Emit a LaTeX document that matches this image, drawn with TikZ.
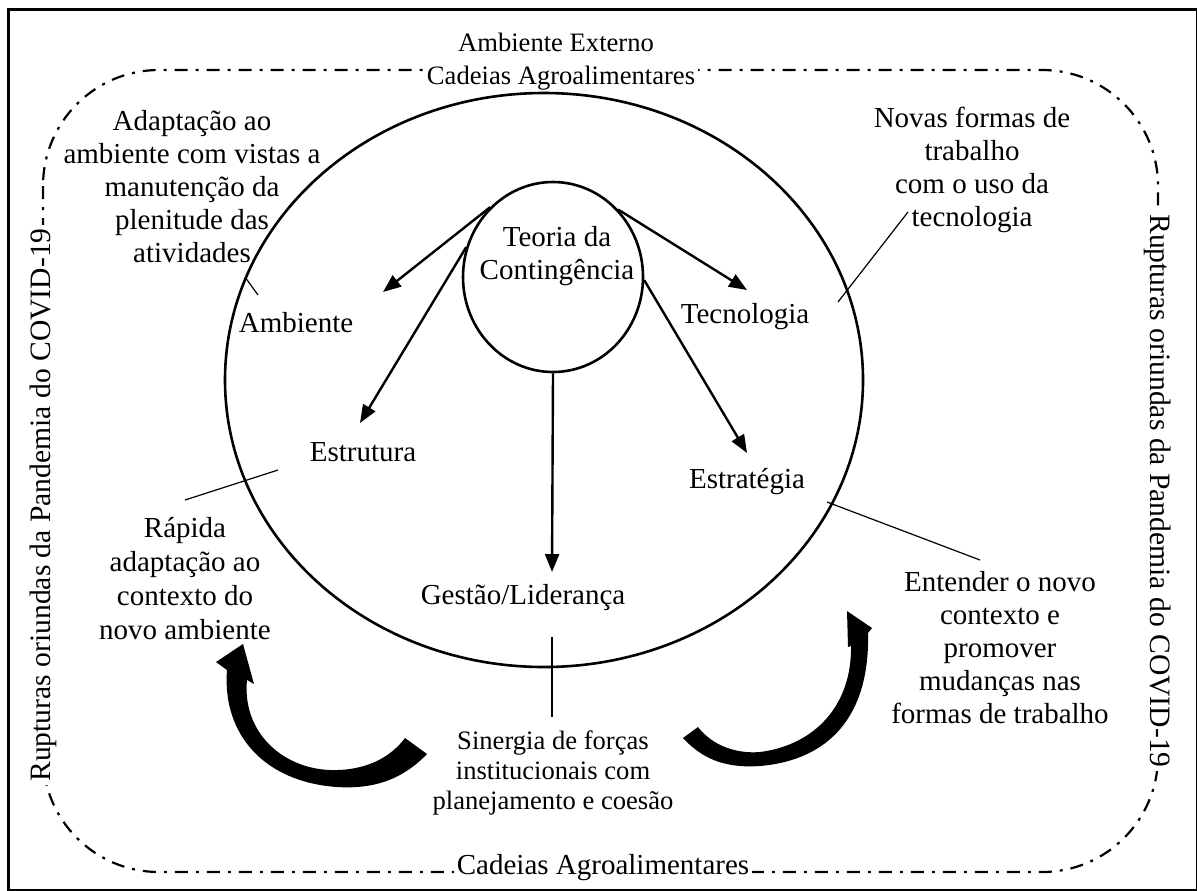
\documentclass[tikz,border=0pt]{standalone}
\usepackage{fontspec}
\setmainfont{Liberation Serif}
\usetikzlibrary{shapes.geometric,arrows.meta}
\begin{document}
\begin{tikzpicture}[x=0.5pt,y=-0.5pt,
  txt/.style={font=\fontsize{14.5}{16.5}\selectfont, align=center, inner sep=0pt},
  small/.style={font=\fontsize{13.3}{15}\selectfont, align=center, inner sep=0pt},
  conn/.style={line width=1.2pt, -{Triangle[length=9pt,width=7pt]}},
  leader/.style={line width=0.6pt},
  ddash/.style={line width=1.1pt, dash pattern=on 6.5pt off 4pt on 1.5pt off 4pt},
  onwhite/.style={fill=white, inner sep=1.5pt}]
\useasboundingbox (0,0) rectangle (1197,890);
% outer frame (right and bottom edges at the very border)
\draw[line width=1.5pt] (8,9) rectangle (1197.5,890.5);
\node[small] (ext) at (556,42) {Ambiente Externo};
% dash-dot rounded boundary
\draw[ddash, rounded corners=58pt] (43,70) rectangle (1158,872);
\node[small, onwhite] (cadtop) at (561,78) {Cadeias Agroalimentares};
\node[txt, onwhite] (cadbot) at (603,868) {Cadeias Agroalimentares};
\node[txt, onwhite, rotate=90, font=\fontsize{14.8}{16}\selectfont] (rupl) at (43,505) {Rupturas oriundas da Pandemia do COVID-19};
\node[txt, onwhite, rotate=-90, font=\fontsize{14.8}{16}\selectfont] (rupr) at (1158,491) {Rupturas oriundas da Pandemia do COVID-19};
% big ellipse
\node[draw, ellipse, line width=1.3pt, minimum width=319pt, minimum height=287pt, inner sep=0pt] (org) at (544,380) {};
% small circle
\node[draw, ellipse, line width=1.3pt, minimum width=90pt, minimum height=95pt, inner sep=0pt] (tc) at (553,277) {};
\node[txt] (tctext) at (557,256) {Teoria da\\Contingência};
% labels
\node[txt] (amb) at (296,323) {Ambiente};
\node[txt] (estr) at (363,452) {Estrutura};
\node[txt] (tec) at (745,317) {Tecnologia};
\node[txt] (estg) at (747,482) {Estratégia};
\node[txt] (gest) at (523,598) {Gestão/Liderança};
% arrow tips
\coordinate (tamb) at (383,292);
\coordinate (testr) at (360,423);
\coordinate (ttec) at (747,290);
\coordinate (testg) at (747,453);
\coordinate (tgest) at (552,572);
\draw[conn] (tc.132) -- (tamb);
\draw[conn] (tc.161) -- (testr);
\draw[conn] (tc.46) -- (ttec);
\draw[conn] (tc.-2) -- (testg);
\draw[conn] (tc.south) -- (tgest);
% explanatory texts
\node[txt] (adapt) at (192,187) {Adaptação ao\\ambiente com vistas a\\manutenção da\\plenitude das\\atividades};
\node[txt] (novas) at (972,170) {Novas formas de\\trabalho\\com o uso da\\tecnologia};
\node[txt, font=\fontsize{14.5}{17}\selectfont] (rapida) at (185,579) {Rápida\\adaptação ao\\contexto do\\novo ambiente};
\node[txt] (entender) at (1000,648) {Entender o novo\\contexto e\\promover\\mudanças nas\\formas de trabalho};
\node[small] (sinergia) at (553,773) {Sinergia de forças\\institucionais com\\planejamento e coesão};
% leader lines
\coordinate (a1) at (245,277); \coordinate (a2) at (258,295);
\coordinate (e1) at (278,470); \coordinate (e2) at (185,500);
\coordinate (t1) at (908,212); \coordinate (t2) at (838,302);
\coordinate (s1) at (827,502); \coordinate (s2) at (980,560);
\coordinate (g1) at (552,637); \coordinate (g2) at (552,717);
\draw[leader] (a1) -- (a2);
\draw[leader] (e1) -- (e2);
\draw[leader] (t1) -- (t2);
\draw[leader] (s1) -- (s2);
\draw[leader, line width=0.9pt] (g1) -- (g2);
% curved block arrows
\fill (405,738) -- (427,754)
  .. controls (400,782) and (370,789) .. (337,787)
  .. controls (265,782) and (222,735) .. (227,670)
  -- (216,662) -- (243,644) -- (254,684) -- (247,680)
  .. controls (242,730) and (280,768) .. (330,770)
  .. controls (365,771) and (390,758) .. (405,738) -- cycle;
\fill (683,738)
  .. controls (705,762) and (730,768) .. (760,766)
  .. controls (830,760) and (870,715) .. (868,633)
  -- (872,628) -- (847,611) -- (848,647) -- (851,646)
  .. controls (852,705) and (815,745) .. (760,752)
  .. controls (735,754) and (712,745) .. (698,727) -- cycle;
\end{tikzpicture}
\end{document}
